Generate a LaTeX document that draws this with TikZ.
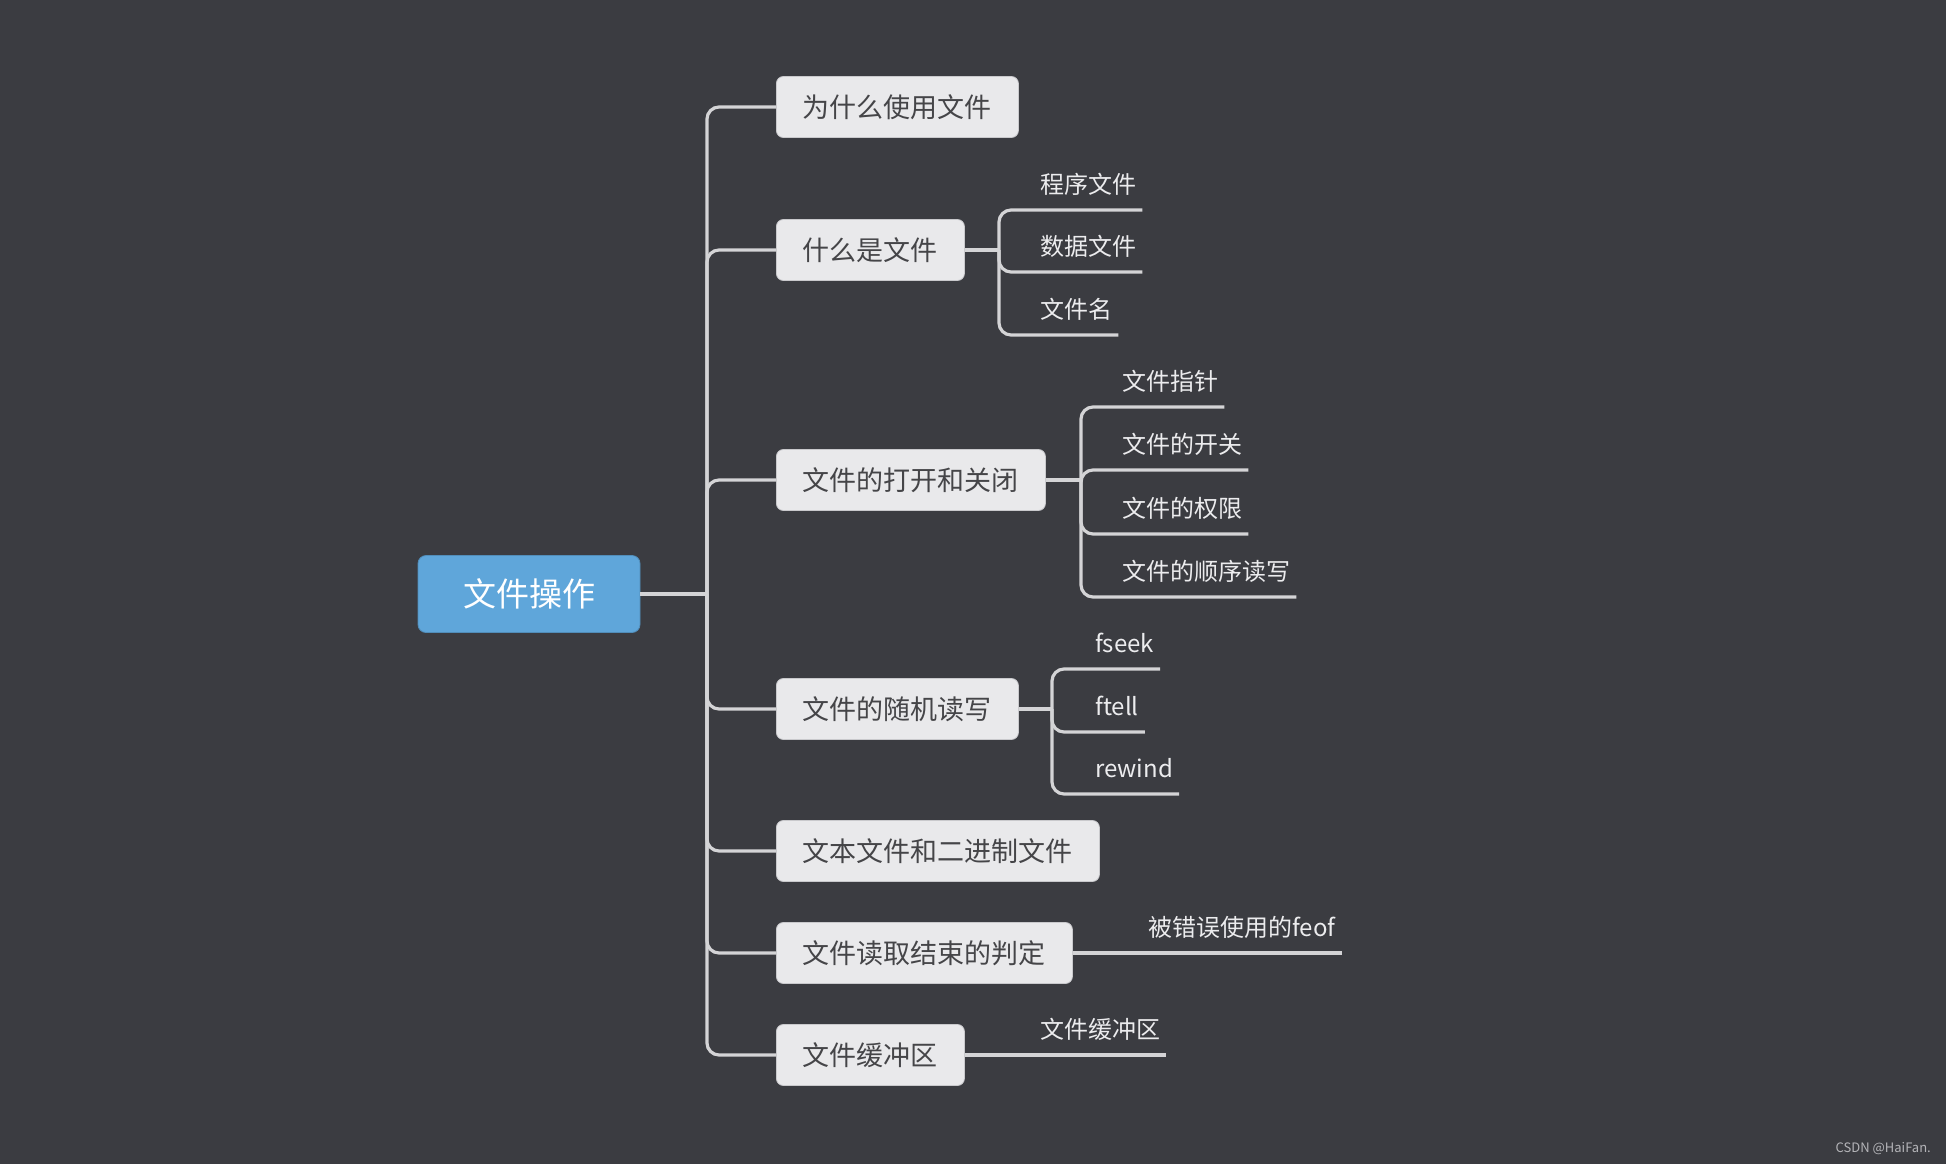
\documentclass[tikz,border=0pt]{standalone}
\usepackage{fontspec}
\usepackage{xcolor}
\newfontfamily\cjk{Noto Sans CJK SC}
\usetikzlibrary{positioning}
\definecolor{PageBg}{HTML}{3B3C41}
\definecolor{BoxFill}{HTML}{E9E9EB}
\definecolor{BoxLine}{HTML}{C9C9CC}
\definecolor{BoxText}{HTML}{454548}
\definecolor{RootBlue}{HTML}{5FA6DA}
\definecolor{LinkGray}{HTML}{D4D4D6}
\definecolor{LeafText}{HTML}{ECECEE}
\definecolor{MarkGray}{HTML}{B4B4B8}
\tikzset{
  rootbox/.style={rounded corners=8pt, draw=RootBlue!85!black, fill=RootBlue, line width=0.8pt, text=white, font=\cjk\fontsize{33}{33}\selectfont, inner xsep=45pt, minimum height=77pt},
  box/.style={rounded corners=7pt, draw=BoxLine, fill=BoxFill, line width=0.8pt, text=BoxText, font=\cjk\fontsize{27}{27}\selectfont, inner xsep=26.5pt, minimum height=61pt, anchor=west},
  leaf/.style={text=LeafText, font=\cjk\fontsize{24}{24}\selectfont, anchor=south west, inner xsep=6pt, inner ysep=0pt, text height=20pt, text depth=16pt},
  conn/.style={draw=LinkGray, line width=3.2pt},
  elbow/.style={conn, rounded corners=12pt}
}
\begin{document}
\begin{tikzpicture}[x=1pt, y=-1pt]
\fill[PageBg] (0,0) rectangle (1946,1164);
\useasboundingbox (0,0) rectangle (1946,1164);

% root and first level
\node[rootbox] (root) at (529,594) {文件操作};
\coordinate (trunk) at (707,594);
\node[box] (b1) at (776,107) {为什么使用文件};
\node[box] (b2) at (776,250) {什么是文件};
\node[box] (b3) at (776,480) {文件的打开和关闭};
\node[box] (b4) at (776,709) {文件的随机读写};
\node[box] (b5) at (776,851) {文本文件和二进制文件};
\node[box] (b6) at (776,953) {文件读取结束的判定};
\node[box] (b7) at (776,1055) {文件缓冲区};

\draw[conn] (root.east) -- (trunk);
\draw[elbow] (trunk) |- (b1.west);
\draw[elbow] (trunk) |- (b2.west);
\draw[elbow] (trunk) |- (b3.west);
\draw[elbow] (trunk) |- (b4.west);
\draw[elbow] (trunk) |- (b5.west);
\draw[elbow] (trunk) |- (b6.west);
\draw[elbow] (trunk) |- (b7.west);

% leaves of b2
\coordinate (j2) at (999,250);
\node[leaf] (l21) at (1034,210) {程序文件};
\node[leaf] (l22) at (1034,272) {数据文件};
\node[leaf] (l23) at (1034,335) {文件名};
\draw[conn] (b2.east) -- (j2);
\draw[elbow] (j2) |- (l21.south east);
\draw[elbow] (j2) |- (l22.south east);
\draw[elbow] (j2) |- (l23.south east);

% leaves of b3
\coordinate (j3) at (1081,480);
\node[leaf] (l31) at (1116,407) {文件指针};
\node[leaf] (l32) at (1116,470) {文件的开关};
\node[leaf] (l33) at (1116,534) {文件的权限};
\node[leaf] (l34) at (1116,597) {文件的顺序读写};
\draw[conn] (b3.east) -- (j3);
\draw[elbow] (j3) |- (l31.south east);
\draw[elbow] (j3) |- (l32.south east);
\draw[elbow] (j3) |- (l33.south east);
\draw[elbow] (j3) |- (l34.south east);

% leaves of b4
\coordinate (j4) at (1052,709);
\node[leaf] (l41) at (1089,669) {fseek};
\node[leaf] (l42) at (1089,732) {ftell};
\node[leaf] (l43) at (1089,794) {rewind};
\draw[conn] (b4.east) -- (j4);
\draw[elbow] (j4) |- (l41.south east);
\draw[elbow] (j4) |- (l42.south east);
\draw[elbow] (j4) |- (l43.south east);

% single leaves
\node[leaf] (l61) at (1142,953) {被错误使用的feof};
\draw[conn] (b6.east) -- (l61.south east);
\node[leaf] (l71) at (1034,1055) {文件缓冲区};
\draw[conn] (b7.east) -- (l71.south east);

\node[anchor=east, inner sep=0pt, text=MarkGray, font=\cjk\fontsize{13}{13}\selectfont] (mark) at (1931,1149) {CSDN @HaiFan.};
\end{tikzpicture}
\end{document}
